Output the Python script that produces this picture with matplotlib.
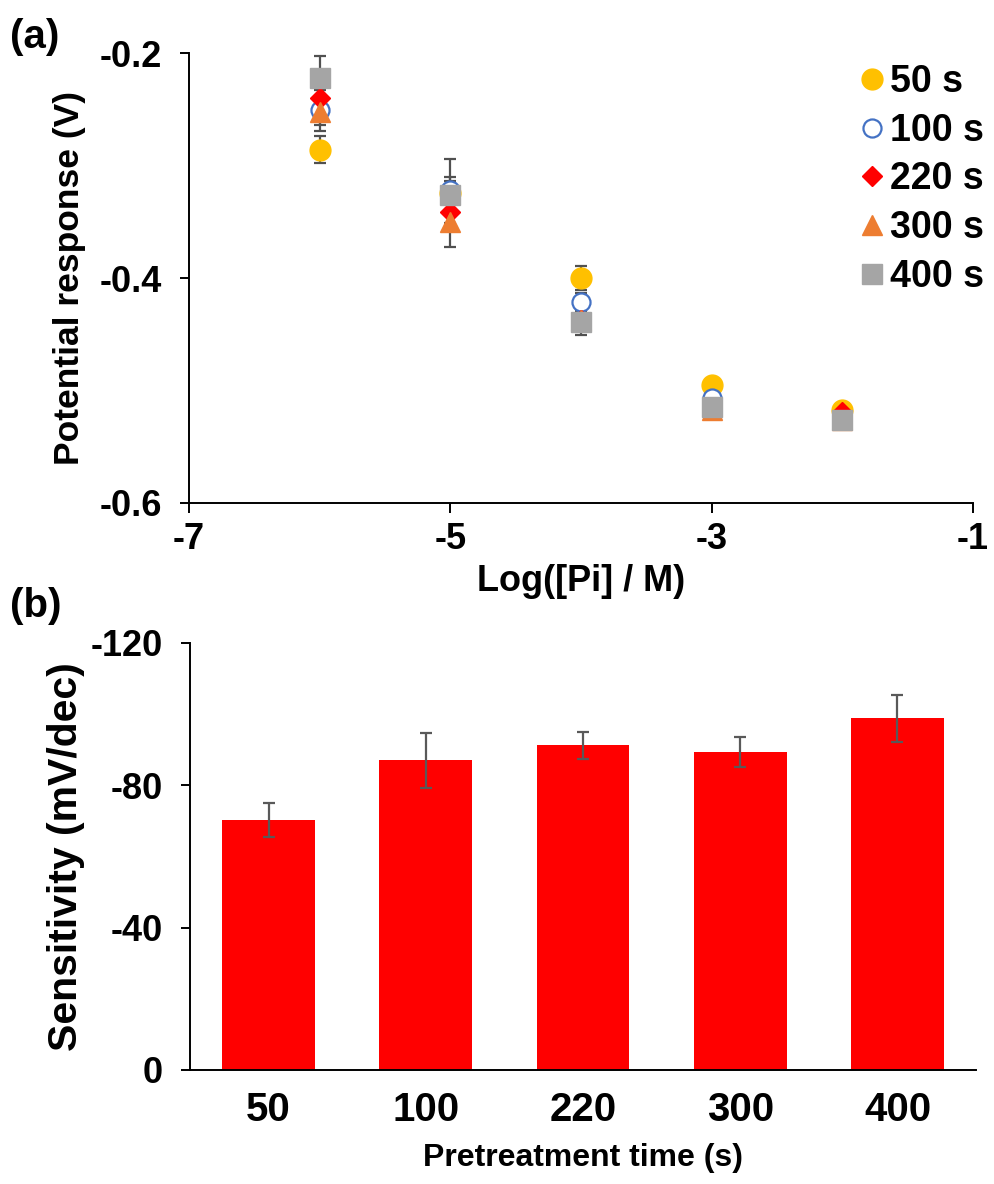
import numpy as np
import matplotlib.pyplot as plt
from matplotlib.lines import Line2D

plt.rcParams['font.family'] = ['Liberation Sans', 'DejaVu Sans']
plt.rcParams['font.weight'] = 'bold'

# panel (a): potential response vs log concentration
log_pi = [-6, -5, -4, -3, -2]
series = ['50 s', '100 s', '220 s', '300 s', '400 s']
resp = {
    '50 s':  [-0.286, -0.324, -0.400, -0.495, -0.517],
    '100 s': [-0.251, -0.322, -0.421, -0.507, -0.525],
    '220 s': [-0.240, -0.341, -0.437, -0.515, -0.519],
    '300 s': [-0.252, -0.350, -0.437, -0.517, -0.526],
    '400 s': [-0.222, -0.326, -0.439, -0.515, -0.526],
}
resp_err = {
    '50 s':  [0.012, 0.010, 0.011, 0.005, 0.004],
    '100 s': [0.018, 0.012, 0.008, 0.005, 0.004],
    '220 s': [0.008, 0.010, 0.008, 0.005, 0.004],
    '300 s': [0.012, 0.022, 0.008, 0.005, 0.004],
    '400 s': [0.019, 0.032, 0.012, 0.006, 0.004],
}

# panel (b): sensitivity vs pretreatment time
times = ['50', '100', '220', '300', '400']
sens = [-70.3, -87.0, -91.2, -89.3, -98.8]
sens_err = [4.8, 7.8, 3.8, 4.2, 6.6]

styles = {
    '50 s':  dict(marker='o', ms=15, mfc='#FFC000', mec='#FFC000'),
    '100 s': dict(marker='o', ms=13, mfc='white', mec='#4472C4', mew=1.6),
    '220 s': dict(marker='D', ms=10.5, mfc='#FF0000', mec='#FF0000'),
    '300 s': dict(marker='^', ms=15, mfc='#ED7D31', mec='#ED7D31'),
    '400 s': dict(marker='s', ms=14, mfc='#A5A5A5', mec='#A5A5A5'),
}

fig = plt.figure(figsize=(9.95, 11.84), dpi=100)
ax1 = fig.add_axes([0.190, 0.5752, 0.788, 0.3800])
ax2 = fig.add_axes([0.191, 0.0963, 0.790, 0.3607])

for s in series:
    ax1.errorbar(log_pi, resp[s], yerr=resp_err[s], ls='none', ecolor='#505050',
                 elinewidth=1.6, capsize=4.5, capthick=1.6, **styles[s])

ax1.set_xlim(-7, -1)
ax1.set_ylim(-0.6, -0.2)
ax1.set_xticks([-7, -5, -3, -1])
ax1.set_yticks([-0.6, -0.4, -0.2])
ax1.set_yticklabels(['-0.6', '-0.4', '-0.2'])
ax1.set_xticklabels(['-7', '-5', '-3', '-1'])
ax1.set_xlabel('Log([Pi] / M)', fontsize=26, fontweight='bold')
ax1.xaxis.set_label_coords(0.5, -0.135)
ax1.set_ylabel('Potential response (V)', fontsize=25.5, fontweight='bold')
ax1.yaxis.set_label_coords(-0.132, 0.5)

handles = [Line2D([], [], ls='none', **styles[s]) for s in series]
leg = fig.legend(handles, series, loc='upper left', bbox_to_anchor=(0.861, 0.946),
                 frameon=False, fontsize=27, handletextpad=0.1, labelspacing=0.34,
                 handlelength=0.8, borderaxespad=0, borderpad=0)
for t in leg.get_texts():
    t.set_fontweight('bold')

x = np.arange(len(times))
ax2.bar(x, sens, width=0.59, color='#FF0000', zorder=2)
ax2.errorbar(x, sens, yerr=sens_err, ls='none', ecolor='#595959',
             elinewidth=1.6, capsize=4.5, capthick=1.6, zorder=3)
ax2.set_xlim(-0.5, len(times) - 0.5)
ax2.set_ylim(0, -120)
ax2.set_yticks([0, -40, -80, -120])
ax2.set_yticklabels(['0', '-40', '-80', '-120'])
ax2.set_xticks(x)
ax2.set_xticklabels(times)
ax2.set_xlabel('Pretreatment time (s)', fontsize=23, fontweight='bold')
ax2.xaxis.set_label_coords(0.5, -0.172)
ax2.set_ylabel('Sensitivity (mV/dec)', fontsize=29.5, fontweight='bold')
ax2.yaxis.set_label_coords(-0.134, 0.5)

for ax in (ax1, ax2):
    for side in ('top', 'right'):
        ax.spines[side].set_visible(False)
    for side in ('left', 'bottom'):
        ax.spines[side].set_linewidth(1.4)
        ax.spines[side].set_color('black')
    ax.tick_params(axis='y', direction='out', length=6.5, width=1.4, labelsize=26, pad=13)
ax1.tick_params(axis='x', direction='out', length=7, width=1.4, labelsize=26, pad=7)
ax2.tick_params(axis='x', length=0, labelsize=29, pad=15)
for ax in (ax1, ax2):
    for lab in ax.get_xticklabels() + ax.get_yticklabels():
        lab.set_fontweight('bold')

fig.text(0.010, 0.985, '(a)', fontsize=29, fontweight='bold', va='top')
fig.text(0.010, 0.504, '(b)', fontsize=29, fontweight='bold', va='top')

fig.savefig('out.png', dpi=100)
